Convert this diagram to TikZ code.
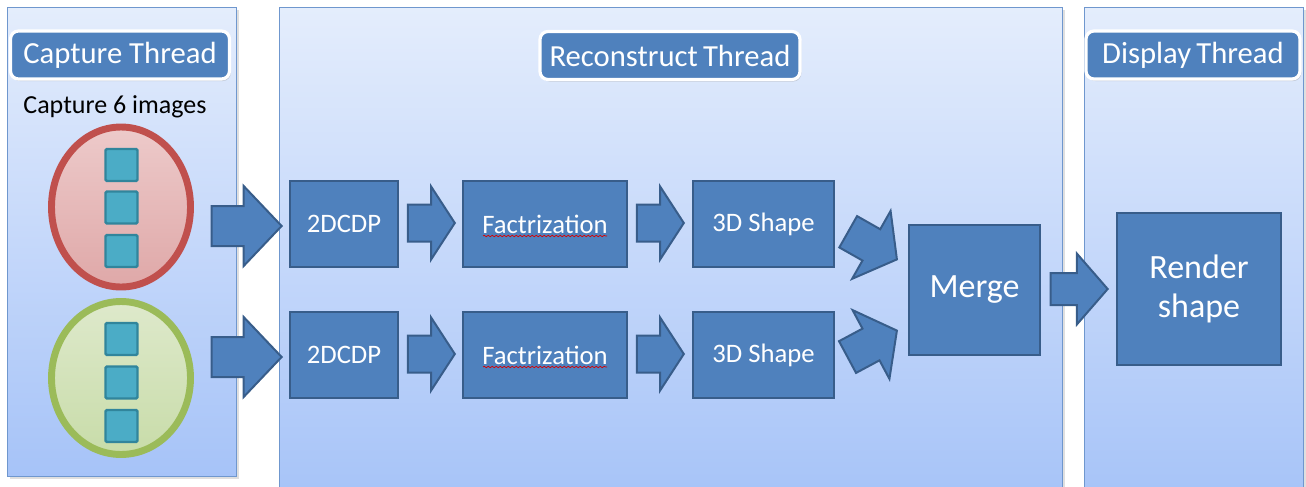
\documentclass[tikz,border=0pt]{standalone}
\usepackage{fontspec}
\setmainfont{Carlito}
\usetikzlibrary{shapes.geometric,shapes.arrows,decorations.pathmorphing,shadows,calc}

\definecolor{panelTop}{HTML}{E4EDFC}
\definecolor{panelBot}{HTML}{A6C3F8}
\definecolor{panelLine}{HTML}{6F97CE}
\definecolor{boxFill}{HTML}{4F81BD}
\definecolor{boxLine}{HTML}{385D8A}
\definecolor{sqFill}{HTML}{4BACC6}
\definecolor{sqLine}{HTML}{31859C}
\definecolor{redLine}{HTML}{C0504D}
\definecolor{redTop}{HTML}{EDCACA}
\definecolor{redBot}{HTML}{DFA8A8}
\definecolor{greenLine}{HTML}{9BBB59}
\definecolor{greenTop}{HTML}{DEE9CB}
\definecolor{greenBot}{HTML}{C8DCA9}

\def\px{0.75pt}

\tikzset{
  panel/.style={draw=panelLine, line width=1pt, top color=panelTop, bottom color=panelBot,
    anchor=north west, inner sep=0pt,
    drop shadow={shadow xshift=1.5pt, shadow yshift=-1.5pt, opacity=0.25}},
  threadlabel/.style={fill=boxFill, draw=white, line width=2.4pt, rounded corners=6pt,
    text=white, inner sep=0pt, minimum height=48*\px,
    font=\fontsize{23}{27}\selectfont,
    drop shadow={shadow xshift=1pt, shadow yshift=-1.5pt, opacity=0.3}},
  stepbox/.style={fill=boxFill, draw=boxLine, line width=1.5pt, text=white, inner sep=0pt,
    font=\fontsize{20}{24}\selectfont},
  bigbox/.style={stepbox, font=\fontsize{25.5}{31}\selectfont, align=center},
  imgset/.style={ellipse, line width=5.2pt, inner sep=0pt},
  frame/.style={fill=sqFill, draw=sqLine, line width=1.8pt, rounded corners=1pt,
    minimum size=32*\px, inner sep=0pt},
  blockarrow/.style={single arrow, fill=boxFill, draw=boxLine, line width=1.5pt,
    inner xsep=0pt, inner ysep=#1, anchor=tip},
  spellmark/.style={red!85!black, line width=0.5pt, decorate,
    decoration={snake, amplitude=0.55pt, segment length=3pt}},
}

\begin{document}
\begin{tikzpicture}[x=0.75pt, y=-0.75pt]
\useasboundingbox (0,0) rectangle (1306,486);
\clip (0,0) rectangle (1306,486);

% thread panels
\node[panel, minimum width=229*\px, minimum height=469*\px] (capP) at (7,7) {};
\node[panel, minimum width=783*\px, minimum height=495*\px] (recP) at (279,7) {};
\node[panel, minimum width=219*\px, minimum height=495*\px] (disP) at (1084,7) {};

% thread titles
\node[threadlabel, minimum width=219*\px] (capT) at (120,55) {Capture Thread};
\node[threadlabel, minimum width=260*\px] (recT) at (670,55.5) {Reconstruct\,Thread};
\node[threadlabel, minimum width=214*\px] (disT) at (1193,55) {Display\,Thread};

\node[font=\fontsize{19.5}{23}\selectfont, inner sep=0pt] (capN) at (115,107) {Capture 6 images};

% image sets
\node[imgset, draw=redLine, top color=redTop, bottom color=redBot,
  minimum width=139*\px, minimum height=160*\px] (red) at (121,207) {};
\node[imgset, draw=greenLine, top color=greenTop, bottom color=greenBot,
  minimum width=139*\px, minimum height=153*\px] (green) at (121,378) {};

\node[frame] (r1) at (121.5,165) {};
\node[frame] (r2) at (121.5,207.5) {};
\node[frame] (r3) at (121.5,251) {};
\node[frame] (g1) at (121.5,339) {};
\node[frame] (g2) at (121.5,382.5) {};
\node[frame] (g3) at (121.5,426) {};

% processing steps
\node[stepbox, minimum width=108*\px, minimum height=86*\px] (p1) at (344,224) {2DCDP};
\node[stepbox, minimum width=164*\px, minimum height=86*\px] (f1) at (545,224) {Factrization};
\node[stepbox, minimum width=141*\px, minimum height=86*\px] (s1) at (763.5,224) {3D Shape};
\node[stepbox, minimum width=108*\px, minimum height=86*\px] (p2) at (344,355) {2DCDP};
\node[stepbox, minimum width=164*\px, minimum height=86*\px] (f2) at (545,355) {Factrization};
\node[stepbox, minimum width=141*\px, minimum height=86*\px] (s2) at (763.5,355) {3D Shape};
\node[bigbox, minimum width=131*\px, minimum height=130*\px] (merge) at (974.5,290) {Merge};
\node[bigbox, minimum width=164*\px, minimum height=152*\px, text width=150*\px] (render) at (1199,289) {Render\\[-2pt]shape};

% spell-check marks under the step names
\draw[spellmark] ($(f1.center)+(-62,12)$) -- ++(124,0);
\draw[spellmark] ($(f2.center)+(-62,12)$) -- ++(124,0);

% block arrows, each placed by its tip just short of the target
\path (red.east |- p1.west) -- ($(p1.west)+(-6,2)$) node[pos=1, blockarrow=19*\px,
  minimum height=70*\px, single arrow head extend=20*\px, single arrow tip angle=93] {};
\path (green.east |- p2.west) -- ($(p2.west)+(-6,2)$) node[pos=1, blockarrow=19*\px,
  minimum height=70*\px, single arrow head extend=20*\px, single arrow tip angle=93] {};

\path (p1.east) -- ($(f1.west)+(-6,-1)$) node[pos=1, blockarrow=17.5*\px,
  minimum height=47*\px, single arrow head extend=18*\px, single arrow tip angle=114] {};
\path (f1.east) -- ($(s1.west)+(-7,-1)$) node[pos=1, blockarrow=17.5*\px,
  minimum height=47*\px, single arrow head extend=18*\px, single arrow tip angle=114] {};
\path (p2.east) -- ($(f2.west)+(-6,-1)$) node[pos=1, blockarrow=17.5*\px,
  minimum height=47*\px, single arrow head extend=18*\px, single arrow tip angle=114] {};
\path (f2.east) -- ($(s2.west)+(-7,-1)$) node[pos=1, blockarrow=17.5*\px,
  minimum height=47*\px, single arrow head extend=18*\px, single arrow tip angle=114] {};

\coordinate (u0) at ($(s1.east)+(14.5,8.5)$);
\coordinate (u1) at ($(merge.west)+(-10,-30)$);
\coordinate (l0) at ($(s2.east)+(14.5,1)$);
\coordinate (l1) at ($(merge.west)+(-10,40)$);
\path (u0) -- (u1) node[pos=1, sloped, blockarrow=17*\px,
  minimum height=56*\px, single arrow head extend=21*\px, single arrow tip angle=106] {};
\path (l0) -- (l1) node[pos=1, sloped, blockarrow=17*\px,
  minimum height=56*\px, single arrow head extend=21*\px, single arrow tip angle=106] {};

\path (merge.east) -- ($(render.west)+(-7,0)$) node[pos=1, blockarrow=15*\px,
  minimum height=57*\px, single arrow head extend=19.5*\px, single arrow tip angle=98] {};
\end{tikzpicture}
\end{document}
